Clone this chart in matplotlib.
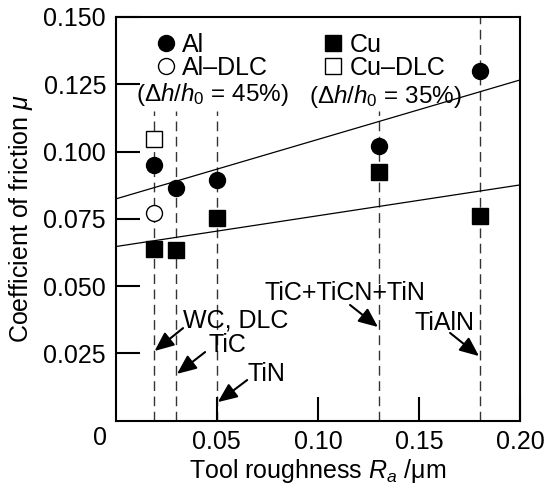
import matplotlib
matplotlib.use("Agg")
import matplotlib.pyplot as plt
import numpy as np

plt.rcParams["font.family"] = ["Liberation Sans", "DejaVu Sans"]
plt.rcParams["mathtext.fontset"] = "custom"
plt.rcParams["mathtext.rm"] = "Liberation Sans"
plt.rcParams["mathtext.it"] = "Liberation Sans:italic"
plt.rcParams["mathtext.default"] = "it"

# --- data ---
ra_tools = [0.019, 0.030, 0.050, 0.130, 0.180]
mu_al = [0.095, 0.0866, 0.0894, 0.1022, 0.130]
mu_cu = [0.0638, 0.0634, 0.0752, 0.0923, 0.0762]
ra_dlc = [0.019]
mu_al_dlc = [0.0773]
mu_cu_dlc = [0.1047]
fit_al = [0.221, 0.0824]   # slope, intercept
fit_cu = [0.1145, 0.0647]
line_top = [0.115, 0.115, 0.115, 0.115, 0.150]
coatings = ["WC, DLC", "TiC", "TiN", "TiC+TiCN+TiN", "TiAlN"]
coat_txt = [(0.0333, 0.0347), (0.0457, 0.0254), (0.065, 0.0147), (0.1132, 0.0448), (0.1624, 0.0337)]
coat_from = [(0.0333, 0.0344), (0.0442, 0.0255), (0.0650, 0.0151), (0.1159, 0.0430), (0.1654, 0.0326)]
coat_tip = [(0.0192, 0.0259), (0.0303, 0.0174), (0.0505, 0.0069), (0.1297, 0.0348), (0.1797, 0.0240)]
coat_ha = ["left", "left", "left", "center", "center"]

FS = 18
fig = plt.figure(figsize=(5.5, 4.91), dpi=100)
ax = fig.add_axes([0.2105, 0.1432, 0.735, 0.8222])

# vertical dashed guide lines
for x, top in zip(ra_tools, line_top):
    ax.plot([x, x], [0, top], color="#333", lw=1.0, ls=(0, (7, 4)), zorder=1)

# fit lines
xf = np.array([0.0, 0.2])
ax.plot(xf, np.polyval(fit_al, xf), color="k", lw=0.9, zorder=2)
ax.plot(xf, np.polyval(fit_cu, xf), color="k", lw=0.9, zorder=2)

al, = ax.plot(ra_tools, mu_al, "o", color="k", ms=11.5, ls="none", label="Al", zorder=3)
cu, = ax.plot(ra_tools, mu_cu, "s", color="k", ms=12, ls="none", label="Cu", zorder=3)
ald, = ax.plot(ra_dlc, mu_al_dlc, "o", mfc="white", mec="k", mew=1.0, ms=11.5, ls="none",
               label="Al\u2013DLC", zorder=3)
cud, = ax.plot(ra_dlc, mu_cu_dlc, "s", mfc="white", mec="k", mew=1.0, ms=12, ls="none",
               label="Cu\u2013DLC", zorder=3)

kw = dict(frameon=False, fontsize=FS, handlelength=0.9, handletextpad=0.2,
          labelspacing=-0.05, borderpad=0, borderaxespad=0, loc="upper left")
lg1 = ax.legend(handles=[al, ald], bbox_to_anchor=(0.0965, 0.96), **kw)
ax.add_artist(lg1)
ax.legend(handles=[cu, cud], bbox_to_anchor=(0.51, 0.96), **kw)
ax.text(0.238, 0.807, r"($\Delta h/h_0$ = 45%)", transform=ax.transAxes, ha="center",
        va="center", fontsize=FS - 0.5)
ax.text(0.666, 0.802, r"($\Delta h/h_0$ = 35%)", transform=ax.transAxes, ha="center",
        va="center", fontsize=FS - 0.5)

for name, xy, src, tip, ha in zip(coatings, coat_txt, coat_from, coat_tip, coat_ha):
    ax.text(xy[0], xy[1], name, ha=ha, va="baseline", fontsize=FS)
    ax.annotate("", xy=tip, xytext=src, fontsize=FS,
                arrowprops=dict(arrowstyle="-|>,head_length=0.65,head_width=0.28",
                                color="k", lw=1.5, shrinkA=0, shrinkB=0))

ax.set_xlim(0, 0.2)
ax.set_ylim(0, 0.15)
ax.set_xticks([0.05, 0.10, 0.15, 0.20])
ax.set_xticklabels(["0.05", "0.10", "0.15", "0.20"])
ax.set_yticks([0.025, 0.05, 0.075, 0.1, 0.125, 0.15])
ax.set_yticklabels(["0.025", "0.050", "0.075", "0.100", "0.125", "0.150"])
ax.tick_params(direction="in", length=17, width=1.5, labelsize=FS, pad=7)
for s in ax.spines.values():
    s.set_linewidth(1.5)
ax.text(-0.04, -0.012, "0", transform=ax.transAxes, ha="center", va="top", fontsize=FS)
ax.set_xlabel(r"Tool roughness $R_a$ $\mathrm{/\mu m}$", fontsize=FS, labelpad=2)
ax.set_ylabel(r"Coefficient of friction $\mu$", fontsize=FS, labelpad=6)

fig.savefig("out.png", dpi=100)
